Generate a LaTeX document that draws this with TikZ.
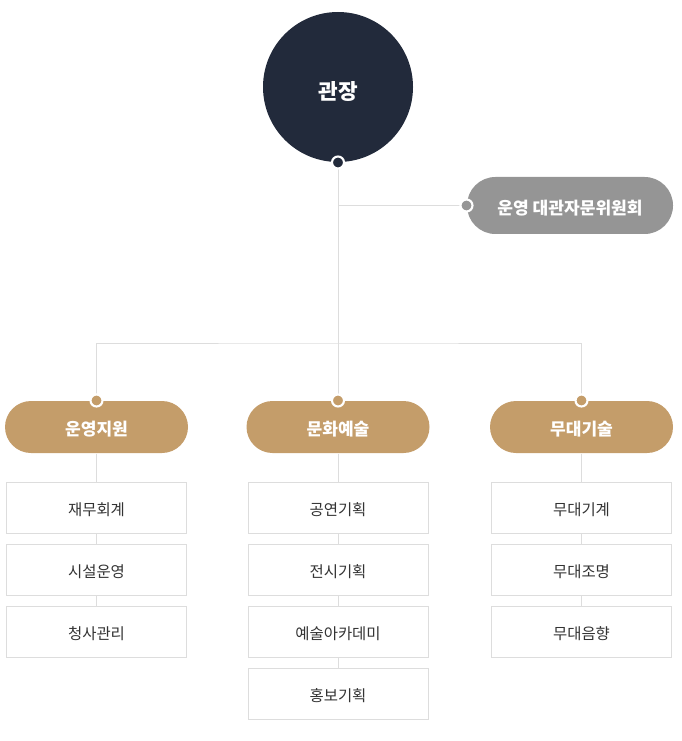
\documentclass[tikz,border=0pt]{standalone}
\usepackage{fontspec}
\setmainfont{Noto Sans CJK KR}
\definecolor{chief}{HTML}{222A3B}
\definecolor{board}{HTML}{959595}
\definecolor{dept}{HTML}{C49D6A}
\definecolor{wire}{HTML}{DDDDDD}
\definecolor{ink}{HTML}{333333}
\begin{document}
\begin{tikzpicture}[x=0.75pt, y=-0.75pt, line width=0.75pt,
  head/.style = {circle, fill=chief, minimum size=112.5pt, inner sep=0pt, text=white, text height=22.5pt, text depth=3pt, font=\bfseries\fontsize{16}{18}\selectfont},
  committee/.style = {rectangle, rounded corners=21.3pt, fill=board, minimum width=154.5pt, minimum height=42.75pt, text=white, text height=15.3pt, text depth=2.5pt, font=\bfseries\fontsize{12.8}{14}\selectfont},
  pill/.style = {rectangle, rounded corners=19.5pt, fill=dept, minimum width=137.25pt, minimum height=39pt, text=white, text height=15.3pt, text depth=2.5pt, font=\bfseries\fontsize{12.8}{14}\selectfont},
  team/.style = {rectangle, draw=wire, fill=white, minimum width=135pt, minimum height=38.25pt, text=ink, text height=14.3pt, text depth=2.5pt, font=\fontsize{11.6}{13}\selectfont},
  dot/.style = {circle, draw=white, line width=1.6pt, minimum size=9pt, inner sep=0pt}]
  \useasboundingbox (0,0) rectangle (681,741);
  \node[head] (0) at (338,87) {관장};
  \node[committee] (c) at (570,205.5) {운영 대관자문위원회};
  \node[pill] (1) at (96.5,427) {운영지원};
  \node[pill] (2) at (338,427) {문화예술};
  \node[pill] (3) at (581.5,427) {무대기술};
  \coordinate (bus) at (338,343);
  % teams
  \node[team] (1-1) at (96.5,507.5) {재무회계};
  \node[team] (1-2) at (96.5,569.5) {시설운영};
  \node[team] (1-3) at (96.5,631.5) {청사관리};
  \node[team] (2-1) at (338,507.5) {공연기획};
  \node[team] (2-2) at (338,569.5) {전시기획};
  \node[team] (2-3) at (338,631.5) {예술아카데미};
  \node[team] (2-4) at (338,693.5) {홍보기획};
  \node[team] (3-1) at (581.5,507.5) {무대기계};
  \node[team] (3-2) at (581.5,569.5) {무대조명};
  \node[team] (3-3) at (581.5,631.5) {무대음향};
  % connectors
  \draw[wire] (0.south) -- (bus);
  \draw[wire] (c.west) -- (0 |- c.west);
  \draw[wire] (1.north) |- (bus) -| (3.north);
  \draw[wire] (bus) -- (2.north);
  \draw[wire] (1.south) -- (1-1.north);
  \draw[wire] (1-1.south) -- (1-2.north);
  \draw[wire] (1-2.south) -- (1-3.north);
  \draw[wire] (2.south) -- (2-1.north);
  \draw[wire] (2-1.south) -- (2-2.north);
  \draw[wire] (2-2.south) -- (2-3.north);
  \draw[wire] (2-3.south) -- (2-4.north);
  \draw[wire] (3.south) -- (3-1.north);
  \draw[wire] (3-1.south) -- (3-2.north);
  \draw[wire] (3-2.south) -- (3-3.north);
  % joints
  \node[dot, fill=chief] (0d) at (0.south) {};
  \node[dot, fill=board] (cd) at (c.west) {};
  \node[dot, fill=dept] (1d) at (1.north) {};
  \node[dot, fill=dept] (2d) at (2.north) {};
  \node[dot, fill=dept] (3d) at (3.north) {};
\end{tikzpicture}
\end{document}
